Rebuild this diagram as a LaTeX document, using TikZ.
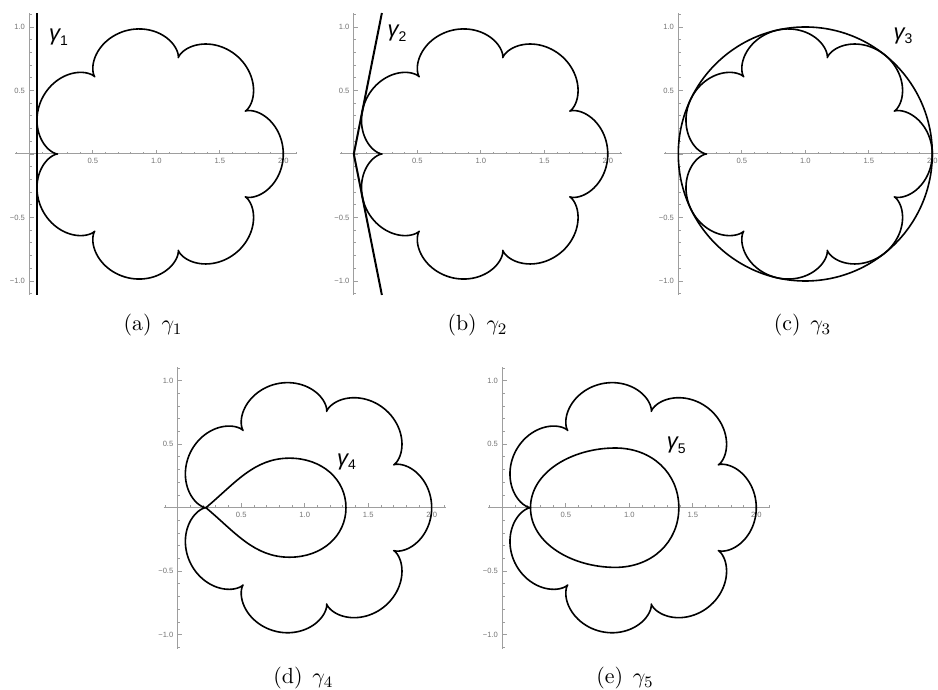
\documentclass[tikz,border=0pt]{standalone}
\usepackage{fontspec}
\newfontfamily\plotfont{Liberation Sans}
\definecolor{AxisGray}{rgb}{0.62,0.62,0.62}
\definecolor{TickGray}{rgb}{0.45,0.45,0.45}

\tikzset{
  axisline/.style={AxisGray, line width=0.5pt},
  tickline/.style={AxisGray, line width=0.4pt},
  curve/.style={black, line width=0.8pt, line join=round},
  gammaline/.style={black, line width=1pt},
  ticklab/.style={TickGray, font=\plotfont\fontsize{3.8}{4}\selectfont, inner sep=0.4pt},
  gammalab/.style={font=\plotfont\fontsize{11}{13}\selectfont, inner sep=0pt},
  subcap/.style={font=\fontsize{10.95}{13}\selectfont, anchor=base, inner sep=0pt}
}

% curve name as printed in the plots: slanted gamma, upright index
\newcommand{\glab}[1]{{\itshape γ}\raisebox{-0.2em}{\fontsize{7}{8}\selectfont #1}}

% axes of one panel, with ticks and tick labels
\newcommand{\plotaxes}{%
  \draw[axisline] (-0.11,0) -- (2.11,0);
  \draw[axisline] (0,-1.11) -- (0,1.11);
  \foreach \t in {-1,...,21}{%
    \pgfmathsetmacro{\ticklen}{ifthenelse(mod(\t,5)==0,0.035,0.018)}
    \draw[tickline] (\t/10,0) -- (\t/10,\ticklen);
  }
  \foreach \t in {-11,...,11}{%
    \pgfmathsetmacro{\ticklen}{ifthenelse(mod(\t,5)==0,0.035,0.018)}
    \draw[tickline] (0,\t/10) -- (\ticklen,\t/10);
  }
  \foreach \v in {0.5,1.0,1.5,2.0}
    \node[ticklab, anchor=north] (xlab) at (\v,-0.025) {\v};
  \foreach \v/\s in {1.0/1.0, 0.5/0.5, -0.5/−0.5, -1.0/−1.0}
    \node[ticklab, anchor=east] (ylab) at (-0.025,\v) {\s};
}

% the seven-cusped epicycloid around (1,0)
\newcommand{\flower}{%
  \draw[curve] plot[domain=0:360, samples=421]
    ({1-(8/9)*cos(\x)+(1/9)*cos(8*\x)}, {(8/9)*sin(\x)-(1/9)*sin(8*\x)}) -- cycle;
}

\begin{document}
\begin{tikzpicture}[x=0.5pt, y=0.5pt]

  % page frame, 938 x 690
  \useasboundingbox (0,0) rectangle (938,690);

  % -------------------------------------------------------
  % Panel (a): vertical tangent line
  % -------------------------------------------------------
  \begin{scope}[shift={(29.3,536)}, x=63.5pt, y=63.5pt]
    \plotaxes
    \flower
    \draw[gammaline] (0.06,-1.11) -- (0.06,1.11);
    \node[gammalab] (labA) at (0.23,0.92) {\glab{1}};
  \end{scope}
  \node[subcap] (capA) at (153,359) {(a)\hspace{0.45em}$\gamma_1$};

  % -------------------------------------------------------
  % Panel (b): two tangents through the origin
  % -------------------------------------------------------
  \begin{scope}[shift={(353.8,536)}, x=63.5pt, y=63.5pt]
    \plotaxes
    \flower
    \draw[gammaline] (0.221,1.11) -- (0,0) -- (0.221,-1.11);
    \node[gammalab] (labB) at (0.34,0.95) {\glab{2}};
  \end{scope}
  \node[subcap] (capB) at (477.5,359) {(b)\hspace{0.45em}$\gamma_2$};

  % -------------------------------------------------------
  % Panel (c): outer circle
  % -------------------------------------------------------
  \begin{scope}[shift={(678.3,536)}, x=63.5pt, y=63.5pt]
    \plotaxes
    \flower
    \draw[curve] (1,0) circle[radius=1];
    \node[gammalab] (labC) at (1.77,0.93) {\glab{3}};
  \end{scope}
  \node[subcap] (capC) at (802.5,359) {(c)\hspace{0.45em}$\gamma_3$};

  % -------------------------------------------------------
  % Panel (d): loop with a corner at the cusp
  % -------------------------------------------------------
  \begin{scope}[shift={(177.7,182.3)}, x=63.5pt, y=63.5pt]
    \plotaxes
    \flower
    \draw[curve] (0.222,0) .. controls (0.45,0.19) and (0.6,0.39) .. (0.88,0.39)
      .. controls (1.14,0.39) and (1.325,0.22) .. (1.325,0)
      .. controls (1.325,-0.22) and (1.14,-0.39) .. (0.88,-0.39)
      .. controls (0.6,-0.39) and (0.45,-0.19) .. cycle;
    \node[gammalab] (labD) at (1.33,0.36) {\glab{4}};
  \end{scope}
  \node[subcap] (capD) at (303.3,6) {(d)\hspace{0.45em}$\gamma_4$};

  % -------------------------------------------------------
  % Panel (e): smooth oval through the cusp
  % -------------------------------------------------------
  \begin{scope}[shift={(502.3,182.3)}, x=63.5pt, y=63.5pt]
    \plotaxes
    \flower
    \draw[curve] (0.222,0) .. controls (0.222,0.28) and (0.55,0.47) .. (0.89,0.47)
      .. controls (1.18,0.47) and (1.39,0.27) .. (1.39,0)
      .. controls (1.39,-0.27) and (1.18,-0.47) .. (0.89,-0.47)
      .. controls (0.55,-0.47) and (0.222,-0.28) .. cycle;
    \node[gammalab] (labE) at (1.37,0.49) {\glab{5}};
  \end{scope}
  \node[subcap] (capE) at (625,6) {(e)\hspace{0.45em}$\gamma_5$};

\end{tikzpicture}
\end{document}
